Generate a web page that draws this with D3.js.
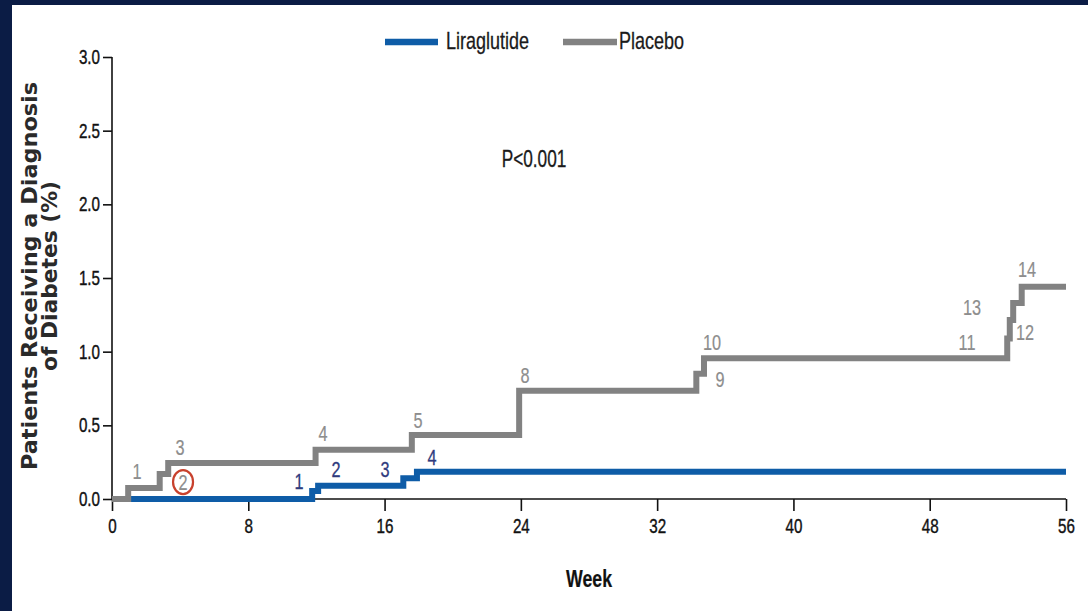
<!DOCTYPE html>
<html>
<head>
<meta charset="utf-8">
<script src="https://cdn.jsdelivr.net/npm/d3@7/dist/d3.min.js"></script>
<style>
  html, body { margin: 0; padding: 0; background: #ffffff; }
  svg { display: block; }
</style>
</head>
<body>
<script>
// Cumulative incidence of diabetes diagnosis (%), step function by week
const weekTicks = [0, 8, 16, 24, 32, 40, 48, 56];
const pctTicks = [0, 0.5, 1.0, 1.5, 2.0, 2.5, 3.0];

const liraWeeks = [0, 11.75, 12.1, 17.1, 17.9];
const liraPct   = [0, 0.055, 0.09, 0.14, 0.185];

const placeboWeeks = [0, 0.95, 2.8, 3.3, 11.95, 17.6, 23.9, 34.3, 34.75, 52.55, 52.7, 52.9, 53.4];
const placeboPct   = [0, 0.075, 0.17, 0.245, 0.335, 0.435, 0.735, 0.85, 0.955, 1.09, 1.215, 1.33, 1.44];

const endWeek = 56;

// Event-count annotations: [week, pct, text]
const placeboNotes = [
  [1.47, 0.19, "1"], [4.17, 0.115, "2"], [3.99, 0.353, "3"], [12.39, 0.448, "4"],
  [17.96, 0.536, "5"], [24.24, 0.842, "8"], [35.69, 0.815, "9"], [35.22, 1.066, "10"],
  [50.19, 1.066, "11"], [53.59, 1.134, "12"], [50.48, 1.303, "13"], [53.71, 1.561, "14"]
];
const liraNotes = [
  [10.98, 0.122, "1"], [13.15, 0.204, "2"], [16.03, 0.204, "3"], [18.78, 0.285, "4"]
];
const circledNote = "2";

const seriesNames = ["Liraglutide", "Placebo"];
const pValueText = "P<0.001";
const xTitle = "Week";
const yTitleLines = ["Patients Receiving a Diagnosis", "of Diabetes (%)"];

const W = 1088, H = 611;
const BLUE = "#0e5ca7", GRAY = "#828282";
const BLUE_TXT = "#2f3b7e", GRAY_TXT = "#8d8d8d", NAVY = "#0b1c45";
const FONT = "'Liberation Sans', Arial, sans-serif";

const svg = d3.select("body").append("svg").attr("width", W).attr("height", H);
svg.append("rect").attr("width", W).attr("height", H).attr("fill", "#fff");
svg.append("rect").attr("x", 0).attr("y", 0).attr("width", W).attr("height", 5).attr("fill", NAVY);
svg.append("rect").attr("x", 0).attr("y", 0).attr("width", 12).attr("height", H).attr("fill", NAVY);

const x = d3.scaleLinear().domain([0, 56]).range([112, 1066]);
const y = d3.scaleLinear().domain([0, 3]).range([499, 57]);

// Horizontally condensed text centred vertically on (cx, cy)
function condensed(parent, cx, cy, str, o) {
  const sx = o.sx || 0.75;
  const g = parent.append("g").attr("transform", `translate(${cx},${cy}) scale(${sx},1)`);
  return g.append("text")
    .attr("text-anchor", o.anchor || "middle")
    .attr("dy", "0.36em")
    .attr("font-family", FONT)
    .attr("font-size", o.size || 20)
    .attr("font-weight", o.weight || "normal")
    .attr("fill", o.color || "#111")
    .attr("stroke", o.color || "#111")
    .attr("stroke-width", o.stroke || 0.3)
    .text(str);
}

// Axes
const TICK_SX = 0.76;
const yAxis = svg.append("g").attr("transform", `translate(${x(0)},0)`)
  .call(d3.axisLeft(y).tickValues(pctTicks).tickFormat(d3.format(".1f")).tickSize(9).tickPadding(3));
const xAxis = svg.append("g").attr("transform", `translate(0,${y(0)})`)
  .call(d3.axisBottom(x).tickValues(weekTicks).tickFormat(d3.format("d")).tickSize(12).tickPadding(8));

[yAxis, xAxis].forEach(a => {
  a.select(".domain").attr("stroke", "#111").attr("stroke-width", 1.6);
  a.selectAll(".tick line").attr("stroke", "#111").attr("stroke-width", 1.6);
  a.selectAll(".tick text")
    .attr("font-family", FONT).attr("font-size", 20).attr("fill", "#111")
    .attr("stroke", "#111").attr("stroke-width", 0.4)
    .attr("transform", `scale(${TICK_SX},1)`);
});
yAxis.select(".domain").attr("d", `M0,${y(3)}V${y(0)}`);
xAxis.select(".domain").attr("d", `M${x(0)},0H${x(56)}`);
yAxis.selectAll(".tick text").attr("x", -12 / TICK_SX);

// Step curves
const line = d3.line().x(d => x(d[0])).y(d => y(d[1])).curve(d3.curveStepAfter);
function steps(weeks, pct) {
  const pts = weeks.map((w, i) => [w, pct[i]]);
  pts.push([endWeek, pct[pct.length - 1]]);
  return pts;
}
svg.append("path").datum(steps(liraWeeks, liraPct)).attr("d", line)
  .attr("fill", "none").attr("stroke", BLUE).attr("stroke-width", 6);
svg.append("path").datum(steps(placeboWeeks, placeboPct)).attr("d", line)
  .attr("fill", "none").attr("stroke", GRAY).attr("stroke-width", 6);

// Event counts
placeboNotes.forEach(([w, p, t]) => {
  condensed(svg, x(w), y(p), t, { size: 22, sx: 0.74, color: GRAY_TXT, stroke: 0.2 });
  if (t === circledNote && w > 4) {
    svg.append("ellipse").attr("cx", x(w)).attr("cy", y(p)).attr("rx", 10).attr("ry", 12)
      .attr("fill", "none").attr("stroke", "#c8412d").attr("stroke-width", 2.2);
  }
});
liraNotes.forEach(([w, p, t]) => {
  condensed(svg, x(w), y(p), t, { size: 22, sx: 0.74, color: BLUE_TXT, stroke: 0.3 });
});

// Legend
const legend = svg.append("g");
legend.append("line").attr("x1", 385).attr("x2", 438).attr("y1", 42).attr("y2", 42)
  .attr("stroke", BLUE).attr("stroke-width", 6.5);
condensed(legend, 446, 40, seriesNames[0], { size: 24, sx: 0.75, anchor: "start", color: "#1a1a1a" });
legend.append("line").attr("x1", 563).attr("x2", 617).attr("y1", 42).attr("y2", 42)
  .attr("stroke", GRAY).attr("stroke-width", 6.5);
condensed(legend, 619, 40, seriesNames[1], { size: 24, sx: 0.75, anchor: "start", color: "#1a1a1a" });

// P value
condensed(svg, 534, 159, pValueText, { size: 23, sx: 0.75, color: "#1a1a1a" });

// Axis titles
condensed(svg, 589, 578, xTitle, { size: 24, sx: 0.74, weight: "bold", color: "#111", stroke: 0.2 });
const yTitleLengths = [388, 190];
const yt = svg.append("g").attr("transform", "translate(0,276) rotate(-90)");
yTitleLines.forEach((s, i) => {
  yt.append("text").attr("x", 0).attr("y", 37 + i * 20)
    .attr("text-anchor", "middle")
    .attr("font-family", "'DejaVu Sans', Verdana, sans-serif")
    .attr("font-size", 21).attr("font-weight", "bold")
    .attr("textLength", yTitleLengths[i]).attr("lengthAdjust", "spacingAndGlyphs")
    .attr("fill", "#2a2a2a").text(s);
});
</script>
</body>
</html>
